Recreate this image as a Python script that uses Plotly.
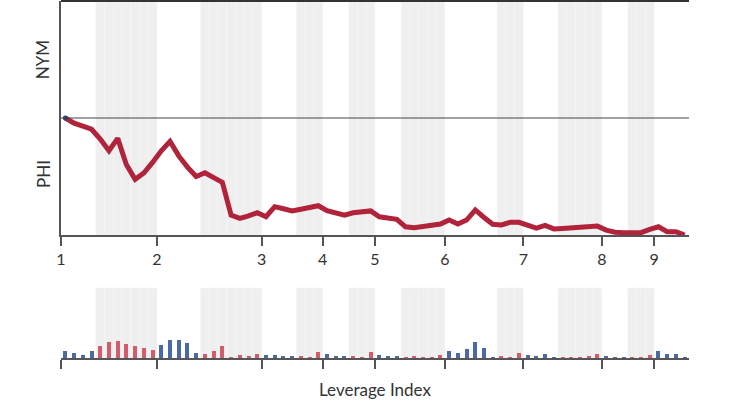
import plotly.graph_objects as go

# play-by-play win probability (NYM on top, PHI at bottom) and leverage index
wp_nym = [0.500, 0.478, 0.465, 0.452, 0.410, 0.360, 0.413, 0.300, 0.238, 0.265,
          0.310, 0.360, 0.400, 0.338, 0.290, 0.250, 0.266, 0.245, 0.225, 0.085,
          0.071, 0.082, 0.095, 0.078, 0.121, 0.112, 0.103, 0.110, 0.118, 0.125,
          0.104, 0.095, 0.085, 0.095, 0.099, 0.103, 0.078, 0.072, 0.067, 0.035,
          0.031, 0.036, 0.041, 0.047, 0.064, 0.047, 0.064, 0.107, 0.075, 0.046,
          0.043, 0.054, 0.054, 0.043, 0.029, 0.041, 0.026, 0.028, 0.031, 0.033,
          0.036, 0.038, 0.021, 0.012, 0.010, 0.010, 0.010, 0.024, 0.035, 0.014,
          0.014, 0.000]

leverage = [1.46, 1.06, 0.66, 1.46, 2.46, 3.14, 3.34, 2.74, 2.34, 2.00,
            1.60, 2.66, 3.66, 3.66, 2.94, 1.06, 0.74, 1.40, 2.34, 0.20,
            0.54, 0.46, 0.86, 0.54, 0.66, 0.40, 0.46, 0.34, 0.20, 1.20,
            0.74, 0.40, 0.40, 0.26, 0.20, 1.20, 0.66, 0.40, 0.34, 0.14,
            0.34, 0.20, 0.14, 0.66, 1.34, 0.94, 1.80, 3.20, 2.00, 0.20,
            0.40, 0.14, 1.00, 0.60, 0.26, 0.74, 0.14, 0.14, 0.20, 0.20,
            0.34, 0.86, 0.46, 0.20, 0.06, 0.06, 0.06, 0.60, 1.34, 0.74,
            0.74, 0.20]

# play index where each inning starts, and where its bottom half starts
inning_start = [0, 11, 23, 30, 36, 44, 53, 62, 68]
inning_labels = ["1", "2", "3", "4", "5", "6", "7", "8", "9"]
bottom_start = [4, 16, 27, 33, 39, 50, 57, 65]

n_plays = len(wp_nym)
FONT = "Lato"
BLUE = "#4a6aa5"
RED = "#d25b6c"
LINE_RED = "#b0233a"

# which plays were in a bottom half (PHI batting)
bottom_plays = []
for k, b in enumerate(bottom_start):
    end = inning_start[k + 1] if k + 1 < len(inning_start) else n_plays
    bottom_plays += list(range(b, end))

xs = [i + 0.5 for i in range(n_plays)]
bar_colors = [RED if i in bottom_plays else BLUE for i in range(n_plays)]

fig = go.Figure()

fig.add_trace(go.Bar(x=xs, y=leverage, width=0.46, marker=dict(color=bar_colors, line_width=0),
                     xaxis="x2", yaxis="y2", showlegend=False))

fig.add_trace(go.Scatter(x=xs, y=wp_nym, mode="lines",
                         line=dict(color=LINE_RED, width=5), showlegend=False))
fig.add_trace(go.Scatter(x=xs[:1], y=wp_nym[:1], mode="markers",
                         marker=dict(color="#27407a", size=5), showlegend=False))

# grey bands for bottom halves, one rect per play
for p in bottom_plays:
    for yref in ["y domain", "y2 domain"]:
        fig.add_shape(type="rect", xref="x", yref=yref, x0=p, x1=p + 1, y0=0, y1=1,
                      fillcolor="#efefef", line=dict(color="#f5f5f5", width=0.6), layer="below")

# even line and top border
fig.add_shape(type="line", xref="x domain", yref="y", x0=0, x1=1, y0=0.5, y1=0.5,
              line=dict(color="#444", width=1.2))
fig.add_shape(type="line", xref="x domain", yref="y domain", x0=0, x1=1, y0=1, y1=1,
              line=dict(color="#333", width=2))

axis_common = dict(range=[0, n_plays], showgrid=False, zeroline=False, showline=True,
                   linecolor="#555", linewidth=1.5, ticks="outside", ticklen=9,
                   tickwidth=1.5, tickcolor="#555", tickvals=inning_start)

fig.update_layout(
    width=735, height=400,
    margin=dict(l=61, r=46, t=0, b=0),
    plot_bgcolor="white", paper_bgcolor="white",
    font=dict(family=FONT, color="#333"),
    xaxis=dict(**axis_common, ticktext=inning_labels, anchor="y",
               tickfont=dict(size=16, color="#333")),
    yaxis=dict(domain=[0.4125, 0.9975], range=[0, 1], showgrid=False, zeroline=False,
               showline=True, linecolor="#555", linewidth=1.5, showticklabels=False),
    xaxis2=dict(**axis_common, ticktext=[""] * len(inning_start), anchor="y2"),
    yaxis2=dict(domain=[0.105, 0.28], range=[0, 14], showgrid=False, zeroline=False,
                showline=False, showticklabels=False),
    bargap=0,
    annotations=[
        dict(text="NYM", xref="paper", yref="y", x=-0.049, y=0.75, textangle=-90,
             showarrow=False, font=dict(size=17, color="#333")),
        dict(text="PHI", xref="paper", yref="y", x=-0.049, y=0.26, textangle=-90,
             showarrow=False, font=dict(size=17, color="#333")),
        dict(text="Leverage Index", xref="paper", yref="paper", x=0.5, y=0.026,
             yanchor="middle", showarrow=False, font=dict(size=17, color="#333")),
    ],
)

# drop the page's default body margin so the figure sits at the window's corner
fig.write_html("out.html", config={"displayModeBar": False},
               post_script="document.body.style.margin = '0';")
